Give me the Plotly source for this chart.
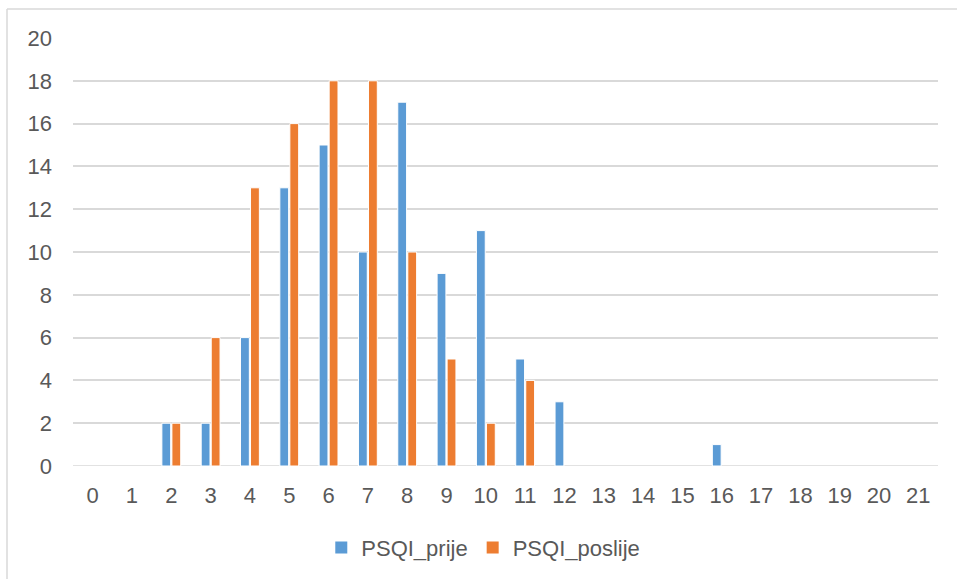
import plotly.graph_objects as go

# PSQI score categories and counts before/after
categories = list(range(0, 22))
psqi_prije = [0, 0, 2, 2, 6, 13, 15, 10, 17, 9, 11, 5, 3, 0, 0, 0, 1, 0, 0, 0, 0, 0]
psqi_poslije = [0, 0, 2, 6, 13, 16, 18, 18, 10, 5, 2, 4, 0, 0, 0, 0, 0, 0, 0, 0, 0, 0]
y_ticks = list(range(0, 21, 2))

BLUE = "#5B9BD5"
ORANGE = "#ED7D31"
TEXT = "#595959"
GRID = "#D9D9D9"
FONT = "Liberation Sans, Arial, Helvetica, sans-serif"


def outline(values):
    # thin white edge on non-empty bars only
    return [1 if v > 0 else 0 for v in values]


fig = go.Figure()
fig.add_trace(go.Bar(
    x=[str(c) for c in categories], y=psqi_prije, name="PSQI_prije",
    marker=dict(color=BLUE, line=dict(color="white", width=outline(psqi_prije))),
))
fig.add_trace(go.Bar(
    x=[str(c) for c in categories], y=psqi_poslije, name="PSQI_poslije",
    marker=dict(color=ORANGE, line=dict(color="white", width=outline(psqi_poslije))),
))

W, H = 957, 579
L, R, T, B = 73, 19, 38, 113
pw, ph = W - L - R, H - T - B


def px_x(x):
    return (x - L) / pw


def px_y(y):
    return (H - B - y) / ph


fig.update_layout(
    width=W, height=H,
    margin=dict(l=L, r=R, t=T, b=B),
    paper_bgcolor="white", plot_bgcolor="white",
    barmode="group", bargap=0.49, bargroupgap=0.12,
    font=dict(family=FONT, size=22, color=TEXT),
    showlegend=True,
    legend=dict(
        orientation="h", xref="container", yref="container",
        x=0.505, y=0.054, xanchor="center", yanchor="middle",
        font=dict(size=22, color=TEXT), itemwidth=30,
        traceorder="normal",
    ),
    xaxis=dict(
        type="category", showgrid=False, showline=False, zeroline=False,
        ticks="", ticklabelstandoff=14,
        tickfont=dict(size=22, color=TEXT),
    ),
    yaxis=dict(
        range=[0, 20], tickvals=y_ticks, showgrid=True, gridcolor=GRID,
        gridwidth=1.5, zeroline=False, showline=False, ticks="",
        ticklabelstandoff=20, tickfont=dict(size=22, color=TEXT),
    ),
    shapes=[
        # baseline
        dict(type="line", xref="paper", yref="y", x0=0, x1=1, y0=0, y1=0,
             line=dict(color=GRID, width=1.5), layer="below"),
        # chart frame (top and left edges)
        dict(type="line", xref="paper", yref="paper",
             x0=px_x(7), x1=px_x(957), y0=px_y(9), y1=px_y(9),
             line=dict(color=GRID, width=1.5)),
        dict(type="line", xref="paper", yref="paper",
             x0=px_x(7), x1=px_x(7), y0=px_y(9), y1=px_y(580),
             line=dict(color=GRID, width=1.5)),
    ],
)

fig.write_html("out.html")
